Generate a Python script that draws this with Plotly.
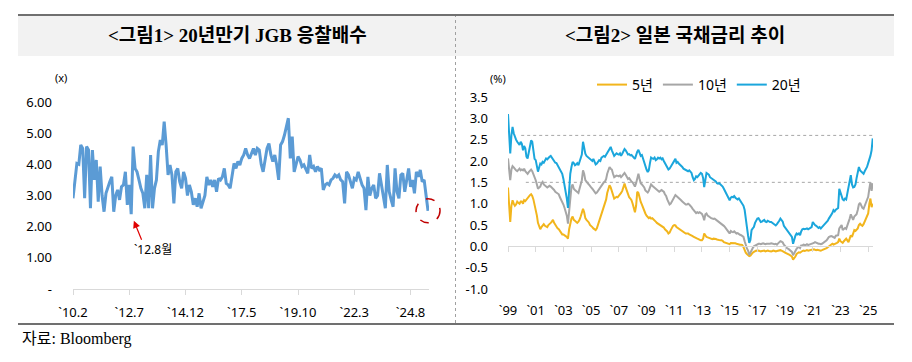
import plotly.graph_objects as go
import pandas as pd

W, H = 912, 362

# ---------------- data: Figure 1 (20y JGB bid-to-cover, monthly from 2010-02) ----------------
btc_start = "2010-02"
btc_values = [
    2.91, 3.60, 4.03, 4.00, 4.62, 4.51, 2.91, 4.57, 4.46, 2.59, 4.46, 3.50,
    4.14, 2.80, 3.93, 3.00, 2.48, 3.07, 3.28, 3.45, 3.60, 2.48, 3.00, 3.18,
    2.86, 3.28, 3.34, 3.76, 2.70, 3.34, 2.40, 4.57, 3.87, 3.76, 3.50, 3.23,
    3.07, 2.59, 3.66, 2.59, 4.30, 2.59, 3.23, 3.50, 4.41, 4.78, 4.62, 5.37,
    4.62, 3.66, 3.98, 3.66, 2.75, 3.76, 3.87, 3.44, 3.23, 3.76, 3.55, 3.00,
    3.34, 3.12, 2.70, 2.91, 2.64, 3.07, 2.59, 2.80, 3.00, 3.60, 3.34, 3.50,
    3.28, 3.50, 3.12, 3.55, 3.50, 3.60, 3.87, 3.39, 3.34, 3.23, 3.60, 4.03,
    3.87, 4.09, 3.98, 4.19, 4.30, 4.51, 4.30, 4.19, 4.35, 4.51, 4.30, 4.51,
    4.46, 4.00, 3.76, 4.19, 4.51, 4.67, 4.30, 4.09, 4.30, 3.98, 3.50, 4.62,
    4.73, 4.94, 5.26, 5.48, 4.19, 4.89, 3.76, 3.98, 4.25, 4.14, 3.93, 3.98,
    3.82, 3.71, 4.30, 3.87, 3.93, 3.76, 3.93, 3.82, 3.87, 3.18, 3.34, 3.39,
    3.34, 3.50, 3.55, 3.66, 3.60, 3.66, 3.50, 3.44, 2.75, 3.76, 3.66, 3.44,
    3.23, 3.55, 3.50, 3.76, 3.55, 3.34, 3.23, 2.53, 3.60, 3.00, 3.23, 3.34,
    2.91, 3.00, 3.71, 3.34, 2.91, 2.59, 3.98, 3.12, 2.86, 2.64, 3.87, 3.12,
    2.91, 3.66, 3.71, 3.12, 3.50, 3.87, 3.28, 3.50, 3.07, 3.76, 3.60, 3.82,
    3.44, 3.50, 3.00, 2.51,
]
btc_ticklabels = ["`10.2", "`12.7", "`14.12", "`17.5", "`19.10", "`22.3", "`24.8"]
btc_yticks = [0, 1, 2, 3, 4, 5, 6]
btc_yticktext = ["-", "1.00", "2.00", "3.00", "4.00", "5.00", "6.00"]
btc_note_month = "`12.8"
btc_note_text = "`12.8월"

# ---------------- data: Figure 2 (JGB yields, monthly from 1999-01) ----------------
yield_start = "1999-01-01"
y5 = [
    1.38, 0.80, 0.57, 0.95, 1.08, 1.00, 0.95, 0.98, 1.05, 1.02, 1.00, 1.05,
    1.05, 1.00, 1.08, 1.06, 1.10, 1.12, 1.16, 1.20, 1.22, 1.18, 1.10, 0.98,
    0.88, 0.72, 0.55, 0.45, 0.40, 0.45, 0.50, 0.52, 0.48, 0.46, 0.45, 0.50,
    0.52, 0.55, 0.58, 0.62, 0.55, 0.50, 0.45, 0.42, 0.40, 0.35, 0.30, 0.28,
    0.28, 0.25, 0.24, 0.22, 0.18, 0.40, 0.55, 0.65, 0.70, 0.62, 0.60, 0.58,
    0.55, 0.58, 0.62, 0.70, 0.78, 0.88, 0.80, 0.66, 0.62, 0.60, 0.56, 0.50,
    0.48, 0.45, 0.42, 0.40, 0.38, 0.42, 0.50, 0.58, 0.68, 0.75, 0.82, 0.90,
    1.00, 1.10, 1.25, 1.35, 1.43, 1.38, 1.30, 1.20, 1.12, 1.14, 1.16, 1.15,
    1.18, 1.22, 1.25, 1.30, 1.40, 1.47, 1.38, 1.28, 1.20, 1.15, 1.12, 1.08,
    1.00, 0.92, 0.80, 0.95, 1.28, 1.25, 1.10, 1.04, 0.98, 0.90, 0.80, 0.77,
    0.72, 0.69, 0.66, 0.68, 0.65, 0.66, 0.64, 0.61, 0.58, 0.55, 0.53, 0.52,
    0.50, 0.49, 0.46, 0.44, 0.40, 0.38, 0.35, 0.30, 0.32, 0.38, 0.45, 0.48,
    0.50, 0.49, 0.45, 0.43, 0.41, 0.40, 0.37, 0.34, 0.33, 0.31, 0.30, 0.30,
    0.30, 0.28, 0.27, 0.26, 0.24, 0.22, 0.20, 0.19, 0.18, 0.17, 0.15, 0.14,
    0.14, 0.18, 0.30, 0.25, 0.22, 0.21, 0.20, 0.19, 0.18, 0.17, 0.18, 0.18,
    0.17, 0.16, 0.15, 0.15, 0.14, 0.14, 0.13, 0.10, 0.09, 0.08, 0.07, 0.06,
    0.05, 0.08, 0.08, 0.07, 0.08, 0.07, 0.06, 0.05, 0.05, 0.04, 0.04, 0.03,
    -0.02, -0.10, -0.15, -0.18, -0.20, -0.23, -0.22, -0.17, -0.15, -0.13, -0.11, -0.10,
    -0.11, -0.10, -0.11, -0.12, -0.11, -0.11, -0.10, -0.12, -0.11, -0.10, -0.11, -0.12,
    -0.12, -0.11, -0.10, -0.11, -0.12, -0.11, -0.10, -0.10, -0.09, -0.10, -0.11, -0.13,
    -0.15, -0.16, -0.18, -0.18, -0.20, -0.22, -0.24, -0.31, -0.28, -0.24, -0.18, -0.15,
    -0.14, -0.15, -0.12, -0.11, -0.10, -0.11, -0.10, -0.09, -0.10, -0.09, -0.09, -0.08,
    -0.08, -0.07, -0.08, -0.09, -0.08, -0.09, -0.10, -0.10, -0.09, -0.08, -0.07, -0.06,
    -0.04, -0.02, 0.00, 0.02, 0.04, 0.06, 0.04, 0.05, 0.07, 0.08, 0.10, 0.18,
    0.12, 0.10, 0.08, 0.12, 0.14, 0.18, 0.14, 0.10, 0.18, 0.26, 0.22, 0.30,
    0.38, 0.36, 0.40, 0.42, 0.50, 0.53, 0.50, 0.48, 0.52, 0.58, 0.61, 0.68,
    0.77, 1.00, 1.12, 0.92, 1.00,
]
y10 = [
    2.06, 1.70, 1.55, 1.80, 1.88, 1.85, 1.80, 1.78, 1.76, 1.80, 1.82, 1.78,
    1.80, 1.78, 1.82, 1.76, 1.72, 1.70, 1.74, 1.78, 1.80, 1.76, 1.70, 1.63,
    1.55, 1.45, 1.35, 1.38, 1.40, 1.48, 1.51, 1.45, 1.42, 1.40, 1.38, 1.40,
    1.42, 1.40, 1.38, 1.35, 1.32, 1.28, 1.26, 1.24, 1.22, 1.15, 1.10, 1.02,
    0.98, 0.90, 0.82, 0.72, 0.53, 0.90, 1.20, 1.39, 1.45, 1.35, 1.32, 1.30,
    1.28, 1.25, 1.35, 1.45, 1.55, 1.78, 1.70, 1.55, 1.50, 1.48, 1.45, 1.40,
    1.38, 1.35, 1.32, 1.28, 1.24, 1.26, 1.30, 1.35, 1.40, 1.45, 1.48, 1.50,
    1.52, 1.58, 1.70, 1.80, 1.86, 1.82, 1.80, 1.70, 1.62, 1.64, 1.66, 1.65,
    1.64, 1.66, 1.62, 1.65, 1.68, 1.72, 1.68, 1.62, 1.58, 1.60, 1.55, 1.52,
    1.50, 1.45, 1.40, 1.48, 1.62, 1.70, 1.58, 1.48, 1.45, 1.42, 1.38, 1.31,
    1.28, 1.26, 1.30, 1.40, 1.45, 1.42, 1.40, 1.38, 1.35, 1.32, 1.30, 1.28,
    1.30, 1.32, 1.30, 1.28, 1.22, 1.18, 1.10, 1.02, 0.98, 1.00, 1.05, 1.12,
    1.16, 1.20, 1.18, 1.16, 1.12, 1.10, 1.08, 1.05, 1.02, 1.00, 0.98, 0.98,
    1.00, 0.98, 0.96, 0.92, 0.88, 0.85, 0.82, 0.78, 0.80, 0.78, 0.80, 0.78,
    0.76, 0.70, 0.61, 0.75, 0.77, 0.72, 0.69, 0.68, 0.66, 0.65, 0.64, 0.65,
    0.63, 0.60, 0.58, 0.57, 0.56, 0.53, 0.52, 0.48, 0.45, 0.42, 0.38, 0.34,
    0.30, 0.36, 0.34, 0.33, 0.35, 0.32, 0.30, 0.31, 0.28, 0.27, 0.26, 0.24,
    0.22, 0.12, 0.02, -0.05, -0.10, -0.20, -0.15, -0.08, -0.04, 0.00, 0.02, 0.04,
    0.05, 0.06, 0.06, 0.05, 0.06, 0.07, 0.06, 0.05, 0.06, 0.06, 0.05, 0.06,
    0.07, 0.06, 0.05, 0.05, 0.06, 0.04, 0.07, 0.10, 0.12, 0.11, 0.09, 0.04,
    0.00, -0.02, -0.05, -0.06, -0.08, -0.12, -0.13, -0.21, -0.15, -0.10, -0.06, -0.03,
    -0.01, -0.04, 0.02, 0.02, 0.04, 0.03, 0.03, 0.05, 0.03, 0.04, 0.05, 0.05,
    0.06, 0.08, 0.10, 0.08, 0.07, 0.06, 0.06, 0.05, 0.06, 0.08, 0.09, 0.10,
    0.14, 0.18, 0.22, 0.23, 0.24, 0.23, 0.22, 0.20, 0.25, 0.25, 0.26, 0.42,
    0.45, 0.50, 0.38, 0.42, 0.43, 0.41, 0.48, 0.55, 0.65, 0.75, 0.68, 0.62,
    0.70, 0.72, 0.75, 0.85, 0.98, 1.02, 0.95, 0.90, 0.88, 0.95, 1.04, 1.08,
    1.16, 1.35, 1.50, 1.30, 1.48,
]
y20 = [
    3.10, 2.55, 2.18, 2.60, 2.80, 2.65, 2.55, 2.50, 2.45, 2.42, 2.38, 2.45,
    2.40, 2.25, 2.35, 2.30, 2.10, 2.06, 2.20, 2.38, 2.48, 2.45, 2.25, 2.05,
    2.02, 1.85, 1.75, 1.85, 1.94, 1.92, 1.98, 1.96, 2.00, 2.06, 2.04, 2.08,
    2.10, 2.12, 2.08, 2.04, 1.98, 1.96, 1.95, 1.90, 1.85, 1.80, 1.75, 1.70,
    1.58, 1.45, 1.30, 1.12, 0.90, 1.35, 1.70, 1.86, 1.98, 1.95, 1.90, 1.92,
    1.95, 1.90, 1.98, 2.05, 2.15, 2.45, 2.30, 2.17, 2.12, 2.10, 2.08, 2.05,
    2.02, 2.00, 2.05, 1.96, 1.92, 1.94, 1.98, 2.02, 2.00, 2.08, 2.10, 2.12,
    2.10, 2.15, 2.18, 2.25, 2.30, 2.33, 2.25, 2.17, 2.12, 2.15, 2.18, 2.16,
    2.15, 2.18, 2.12, 2.17, 2.22, 2.28, 2.25, 2.18, 2.15, 2.16, 2.13, 2.14,
    2.12, 2.08, 2.05, 2.15, 2.22, 2.26, 2.20, 2.12, 2.14, 2.05, 1.95, 1.86,
    1.80, 1.74, 1.78, 1.95, 2.08, 2.06, 2.05, 2.08, 2.02, 2.04, 2.08, 2.06,
    2.08, 2.04, 2.06, 2.00, 1.95, 1.90, 1.88, 1.80, 1.82, 1.86, 1.92, 1.96,
    2.00, 2.05, 1.96, 1.98, 1.94, 1.92, 1.90, 1.86, 1.82, 1.80, 1.78, 1.78,
    1.76, 1.78, 1.75, 1.72, 1.62, 1.55, 1.58, 1.64, 1.62, 1.66, 1.68, 1.72,
    1.70, 1.60, 1.39, 1.55, 1.72, 1.70, 1.68, 1.62, 1.60, 1.58, 1.56, 1.55,
    1.52, 1.48, 1.47, 1.48, 1.45, 1.44, 1.40, 1.35, 1.30, 1.25, 1.20, 1.12,
    1.08, 1.14, 1.16, 1.15, 1.18, 1.14, 1.12, 1.10, 1.12, 1.08, 1.05, 1.00,
    0.95, 0.85, 0.60, 0.45, 0.25, 0.08, 0.15, 0.38, 0.42, 0.45, 0.55, 0.62,
    0.65, 0.66, 0.62, 0.57, 0.58, 0.60, 0.62, 0.58, 0.57, 0.60, 0.58, 0.57,
    0.57, 0.55, 0.52, 0.50, 0.49, 0.52, 0.55, 0.60, 0.65, 0.62, 0.58, 0.48,
    0.44, 0.40, 0.35, 0.34, 0.30, 0.24, 0.22, 0.06, 0.18, 0.25, 0.30, 0.28,
    0.30, 0.26, 0.35, 0.40, 0.41, 0.40, 0.41, 0.42, 0.40, 0.42, 0.43, 0.45,
    0.57, 0.52, 0.50, 0.48, 0.45, 0.43, 0.45, 0.42, 0.45, 0.48, 0.50, 0.52,
    0.55, 0.60, 0.65, 0.69, 0.72, 0.78, 0.85, 0.82, 0.86, 0.88, 0.90, 1.35,
    1.25, 1.15, 1.10, 1.08, 1.12, 1.10, 1.25, 1.35, 1.50, 1.67, 1.45, 1.38,
    1.39, 1.45, 1.60, 1.70, 1.86, 1.78, 1.75, 1.72, 1.70, 1.76, 1.80, 1.86,
    1.95, 2.02, 2.12, 2.25, 2.53,
]
series_names = ["5년", "10년", "20년"]
series_colors = ["#F2B51C", "#A6A6A6", "#1BA6DC"]
ref_levels = [2.6, 1.5]
ref_starts = ["1999-12-15", "2000-04-15"]
yield_tick_years = list(range(1999, 2026, 2))
yield_ticktext = ["`99", "`01", "`03", "`05", "`07", "`09", "`11", "`13", "`15", "`17", "`19", "`21", "`23", "`25"]
yield_yticks = [-1.0, -0.5, 0.0, 0.5, 1.0, 1.5, 2.0, 2.5, 3.0, 3.5]
yield_yticktext = ["-1.0", "-0.5", "0.0", "0.5", "1.0", "1.5", "2.0", "2.5", "3.0", "3.5"]

title1 = "&lt;그림1&gt; 20년만기 JGB 응찰배수"
title2 = "&lt;그림2&gt; 일본 국채금리 추이"
source_text = "자료: Bloomberg"

assert len(y5) == len(y10) == len(y20)

# ---------------- build ----------------
p0 = pd.Period(btc_start, freq="M")
btc_months = [p0 + k for k in range(len(btc_values))]
btc_labels = [f"`{p.year % 100:02d}.{p.month}" for p in btc_months]
dates = pd.date_range(yield_start, periods=len(y20), freq="MS")

def fx(px):
    return px / W

def fy(py):
    return 1 - py / H

SANS = "Noto Sans, Noto Sans CJK KR, sans-serif"
SERIF = "Liberation Serif, Noto Sans CJK KR, serif"
TXT = "#000000"

fig = go.Figure()

fig.add_trace(go.Scatter(
    x=btc_labels, y=btc_values, mode="lines",
    line=dict(color="#5B9BD5", width=3), showlegend=False,
    xaxis="x", yaxis="y"))

for name, col, ys in zip(series_names, series_colors, [y5, y10, y20]):
    fig.add_trace(go.Scatter(
        x=dates, y=ys, mode="lines", name=name,
        line=dict(color=col, width=2), xaxis="x2", yaxis="y2"))

# left chart geometry
l_xdom = [fx(73), fx(429)]
l_xrange = [0, len(btc_values) - 0.5]
# right chart geometry
r_ymin, r_ymax = -1.0, 3.5
r_dom = [fy(289), fy(97)]
zero_pos = r_dom[0] + (0 - r_ymin) / (r_ymax - r_ymin) * (r_dom[1] - r_dom[0])
x_end = "2025-05-08"

fig.update_layout(
    width=W, height=H, margin=dict(l=0, r=0, t=0, b=0, autoexpand=False),
    paper_bgcolor="white", plot_bgcolor="rgba(0,0,0,0)",
    font=dict(family=SANS, size=13, color=TXT),
    xaxis=dict(domain=l_xdom, type="category", range=l_xrange,
               tickvals=btc_ticklabels, ticktext=btc_ticklabels,
               showline=True, linecolor="#D9D9D9", linewidth=1,
               ticks="outside", ticklen=5, tickcolor="#D9D9D9",
               showgrid=False, zeroline=False, ticklabelstandoff=6, automargin=False,
               tickfont=dict(size=13, family=SANS, color=TXT), anchor="y"),
    yaxis=dict(domain=[fy(289), fy(102)], range=[0, 6],
               tickvals=btc_yticks, ticktext=btc_yticktext,
               showline=False, showgrid=False, zeroline=False, ticks="",
               ticklabelstandoff=20, automargin=False,
               tickfont=dict(size=13, family=SANS, color=TXT), anchor="x"),
    xaxis2=dict(domain=[fx(508), fx(873)], type="date", range=[yield_start, x_end],
                tickvals=[f"{y}-01-01" for y in yield_tick_years], ticktext=yield_ticktext,
                showline=False, showgrid=False, zeroline=False, ticks="",
                ticklabelstandoff=12, automargin=False,
                tickfont=dict(size=13, family=SANS, color=TXT), anchor="y2"),
    xaxis3=dict(domain=[fx(508), fx(873)], type="date", range=[yield_start, x_end],
                matches="x2", overlaying="x2", anchor="free", position=zero_pos,
                tickvals=[f"{y}-01-01" for y in yield_tick_years], automargin=False,
                showticklabels=False, showline=True, linecolor="#D9D9D9", linewidth=1,
                ticks="outside", ticklen=5, tickcolor="#D9D9D9", showgrid=False),
    yaxis2=dict(domain=r_dom, range=[r_ymin, r_ymax],
                tickvals=yield_yticks, ticktext=yield_yticktext,
                showline=False, showgrid=False, zeroline=False, ticks="",
                ticklabelstandoff=19, automargin=False,
                tickfont=dict(size=13, family=SANS, color=TXT), anchor="x2"),
    legend=dict(orientation="h", x=fx(592), y=fy(85), xanchor="left", yanchor="middle",
                font=dict(size=14, family=SANS, color=TXT), bgcolor="rgba(0,0,0,0)",
                itemwidth=30, traceorder="normal"),
)

# invisible trace to register xaxis3
fig.add_trace(go.Scatter(x=[dates[0]], y=[0], xaxis="x3", yaxis="y2", mode="markers",
                         marker=dict(opacity=0), showlegend=False, hoverinfo="skip"))

shapes = []
# title band, frame lines, separator
shapes.append(dict(type="rect", xref="paper", yref="paper", x0=fx(18), x1=fx(894),
                   y0=fy(56), y1=fy(16), fillcolor="#F2F2F2", line=dict(width=0), layer="below"))
shapes.append(dict(type="line", xref="paper", yref="paper", x0=fx(18), x1=fx(894),
                   y0=fy(15), y1=fy(15), line=dict(color="#404040", width=1.5)))
shapes.append(dict(type="line", xref="paper", yref="paper", x0=fx(18), x1=fx(894),
                   y0=fy(324), y1=fy(324), line=dict(color="#404040", width=1.5)))
shapes.append(dict(type="line", xref="paper", yref="paper", x0=fx(455.5), x1=fx(455.5),
                   y0=fy(323), y1=fy(16), line=dict(color="#A0A0A0", width=1, dash="dot")))
# reference dotted levels in right chart
for lvl, st in zip(ref_levels, ref_starts):
    shapes.append(dict(type="line", xref="x2", yref="y2", x0=st, x1=x_end, y0=lvl, y1=lvl,
                       line=dict(color="#A6A6A6", width=1, dash="dot"), layer="below"))
# red dashed circle around latest auction (paper coords so it is not clipped)
last_i = len(btc_values) - 1
cx = l_xdom[0] + (last_i - l_xrange[0]) / (l_xrange[1] - l_xrange[0]) * (l_xdom[1] - l_xdom[0])
cy = fy(289) + btc_values[-1] / 6.0 * (fy(102) - fy(289))
shapes.append(dict(type="circle", xref="paper", yref="paper", xsizemode="pixel", ysizemode="pixel",
                   xanchor=cx, yanchor=cy, x0=-12, x1=12, y0=-12, y1=12,
                   line=dict(color="#C00000", width=1.5, dash="dash")))
fig.update_layout(shapes=shapes)

note_idx = btc_labels.index(btc_note_month)
ann = [
    dict(text="<b>" + title1 + "</b>", xref="paper", yref="paper", x=fx(237), y=fy(35), showarrow=False,
         xanchor="center", yanchor="middle", font=dict(family=SERIF, size=19, color=TXT)),
    dict(text="<b>" + title2 + "</b>", xref="paper", yref="paper", x=fx(675), y=fy(35), showarrow=False,
         xanchor="center", yanchor="middle", font=dict(family=SERIF, size=19, color=TXT)),
    dict(text=source_text, xref="paper", yref="paper", x=fx(20), y=fy(339), showarrow=False,
         xanchor="left", yanchor="middle", font=dict(family=SERIF, size=16, color=TXT)),
    dict(text="(x)", xref="paper", yref="paper", x=fx(61), y=fy(77), showarrow=False,
         xanchor="center", yanchor="middle", font=dict(size=11, color=TXT)),
    dict(text="(%)", xref="paper", yref="paper", x=fx(498), y=fy(79), showarrow=False,
         xanchor="center", yanchor="middle", font=dict(size=11, color=TXT)),
    dict(text=btc_note_text, xref="paper", yref="paper", x=fx(153), y=fy(249), showarrow=False,
         xanchor="center", yanchor="middle", font=dict(size=12, color=TXT)),
    dict(text="", xref="x", yref="y", x=note_idx, y=btc_values[note_idx],
         showarrow=True, ax=11, ay=27, standoff=7, arrowhead=2, arrowsize=1.2,
         arrowwidth=1.2, arrowcolor="#E00000"),
]
fig.update_layout(annotations=ann)

fig.write_html("out.html", config={"displayModeBar": False},
               post_script="document.body.style.margin='0px';document.body.style.overflow='hidden';")
